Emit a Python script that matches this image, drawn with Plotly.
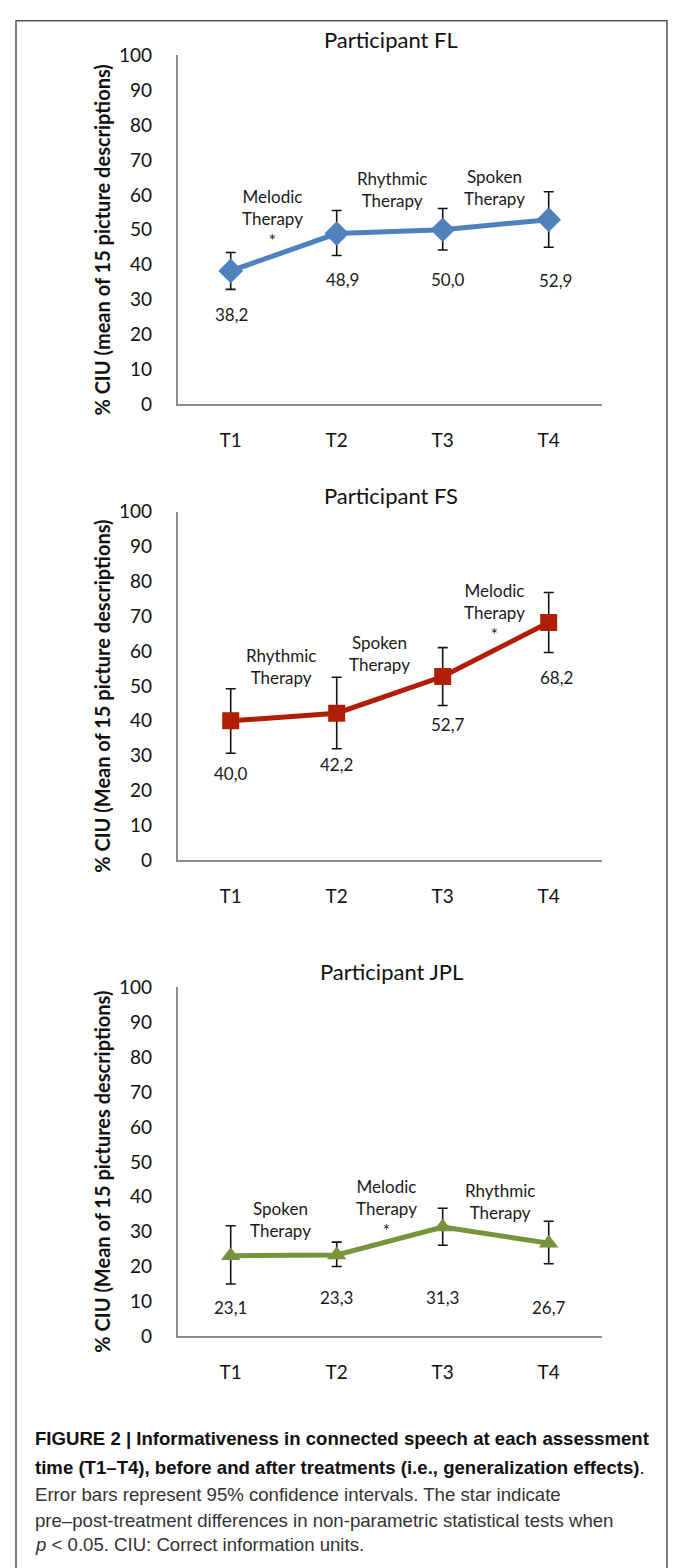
import plotly.graph_objects as go

# ---- data -------------------------------------------------------------
times = ["T1", "T2", "T3", "T4"]

fl_values = [38.2, 48.9, 50.0, 52.9]
fl_err_plus = [5.3, 6.6, 6.1, 8.0]
fl_err_minus = [5.3, 6.3, 5.8, 7.9]

fs_values = [40.0, 42.2, 52.7, 68.2]
fs_err_plus = [9.2, 10.3, 8.3, 8.6]
fs_err_minus = [9.3, 10.2, 8.3, 8.6]

jpl_values = [23.1, 23.3, 31.3, 26.7]
jpl_err_plus = [8.6, 3.7, 5.4, 6.3]
jpl_err_minus = [8.1, 3.3, 5.2, 5.9]

fl_therapies = ["Melodic<br>Therapy<br>*", "Rhythmic<br>Therapy", "Spoken<br>Therapy"]
fs_therapies = ["Rhythmic<br>Therapy", "Spoken<br>Therapy", "Melodic<br>Therapy<br>*"]
jpl_therapies = ["Spoken<br>Therapy", "Melodic<br>Therapy<br>*", "Rhythmic<br>Therapy"]

titles = ["Participant FL", "Participant FS", "Participant JPL"]
ytitles = [
    "% CIU (mean of 15 picture descriptions)",
    "% CIU (Mean of 15 picture descriptions)",
    "% CIU (Mean of 15 pictures descriptions)",
]

# ---- layout helpers ---------------------------------------------------
W, H = 673, 1568
FONT = "Lato, Carlito, Calibri, Open Sans, sans-serif"
CAP_FONT = "Liberation Sans Narrow, Arial Narrow, Liberation Sans, sans-serif"


def py(px):
    """pixel row -> paper fraction"""
    return 1 - px / H


def pxx(px):
    return px / W


x_left, x_right = 177.7, 601.7
panels = [
    dict(top=44, bottom=398, values=fl_values, ep=fl_err_plus, em=fl_err_minus,
         color="#4F81BD", symbol="diamond", msize=19, therapies=fl_therapies,
         th_pos=[(0.39, 53.1), (1.52, 61.6), (2.49, 62.1)],
         lab_pos=[(0.01, 25.7), (0.05, 35.6), (0.05, 35.6), (0.06, 35.4)]),
    dict(top=507, bottom=861, values=fs_values, ep=fs_err_plus, em=fs_err_minus,
         color="#B01E05", symbol="square", msize=17, therapies=fs_therapies,
         th_pos=[(0.47, 55.5), (1.40, 59.3), (2.49, 71.2)],
         lab_pos=[(0.0, 24.9), (0.0, 27.4), (0.05, 38.9), (0.07, 52.5)]),
    dict(top=990, bottom=1344, values=jpl_values, ep=jpl_err_plus, em=jpl_err_minus,
         color="#77933C", symbol="triangle-up", msize=17, therapies=jpl_therapies,
         th_pos=[(0.47, 33.6), (1.47, 36.6), (2.54, 38.7)],
         lab_pos=[(0.0, 8.2), (0.0, 11.0), (0.0, 11.0), (0.0, 8.2)]),
]

fig = go.Figure()
annotations = []
xs = list(range(len(times)))

for i, p in enumerate(panels):
    n = "" if i == 0 else str(i + 1)
    xa, ya = "x" + n, "y" + n
    fig.add_trace(go.Scatter(
        x=xs, y=p["values"], mode="lines+markers",
        line=dict(color=p["color"], width=5),
        marker=dict(symbol=p["symbol"], size=p["msize"], color=p["color"]),
        error_y=dict(type="data", array=p["ep"], arrayminus=p["em"],
                     color="#111111", thickness=1.6, width=5),
        xaxis=xa, yaxis=ya, showlegend=False, hoverinfo="skip",
    ))
    axis_common = dict(showgrid=False, zeroline=False, showline=True,
                       linecolor="#8C8C8C", linewidth=1.5, ticks="",
                       tickfont=dict(family=FONT, size=19, color="#111111"))
    fig.update_layout({
        ("xaxis" + n): dict(domain=[pxx(x_left), pxx(x_right)], range=[-0.5, 3.5],
                            tickvals=xs, ticktext=times, anchor=ya,
                            ticklabelstandoff=18, **axis_common),
        ("yaxis" + n): dict(domain=[py(p["bottom"]), py(p["top"])], range=[0, 100],
                            dtick=10, anchor=xa, ticklabelstandoff=20, **axis_common),
    })
    # therapy annotations between assessments
    for txt, (tx, ty) in zip(p["therapies"], p["th_pos"]):
        annotations.append(dict(x=tx, y=ty, xref=xa, yref=ya, text=txt,
                                xanchor="center", yanchor="middle",
                                showarrow=False, align="center",
                                font=dict(family=FONT, size=17, color="#1A1A1A")))
    # value labels
    for v, (dx, ly), xv in zip(p["values"], p["lab_pos"], xs):
        annotations.append(dict(x=xv + dx, y=ly, xref=xa, yref=ya,
                                xanchor="center", yanchor="middle",
                                text=f"{v:.1f}".replace(".", ","), showarrow=False,
                                font=dict(family=FONT, size=17, color="#1A1A1A")))
    # panel title
    annotations.append(dict(x=pxx(391), y=py(p["top"] - 16), xref="paper", yref="paper",
                            xanchor="center", yanchor="middle",
                            text=titles[i], showarrow=False,
                            font=dict(family=FONT, size=22, color="#111111")))
    # y-axis title
    annotations.append(dict(x=pxx(102), y=py((p["top"] + p["bottom"]) / 2 + 10),
                            xref="paper", yref="paper", text="<b>" + ytitles[i] + "</b>",
                            xanchor="center", yanchor="middle",
                            textangle=-90, showarrow=False,
                            font=dict(family=FONT, size=20, color="#111111")))

# caption
caption = [
    ("<b>FIGURE 2 | Informativeness in connected speech at each assessment</b>", 1448, "#111111"),
    ("<b>time (T1–T4), before and after treatments (i.e., generalization effects)</b>.", 1477, "#111111"),
    ("Error bars represent 95% confidence intervals. The star indicate", 1505, "#333333"),
    ("pre–post-treatment differences in non-parametric statistical tests when", 1531, "#333333"),
    ("<i>p</i> &lt; 0.05. CIU: Correct information units.", 1555, "#333333"),
]
for txt, yy, col in caption:
    annotations.append(dict(x=pxx(33), y=py(yy), xref="paper", yref="paper",
                            xanchor="left", yanchor="middle", text=txt, showarrow=False,
                            font=dict(family=CAP_FONT, size=18.6, color=col)))

fig.update_layout(
    width=W, height=H, margin=dict(l=0, r=0, t=0, b=0),
    paper_bgcolor="white", plot_bgcolor="white",
    annotations=annotations,
    shapes=[dict(type="rect", xref="paper", yref="paper",
                 x0=pxx(16), x1=pxx(667), y0=-0.02, y1=py(9),
                 line=dict(color="#555555", width=1.5))],
)

fig.write_html("out.html")
